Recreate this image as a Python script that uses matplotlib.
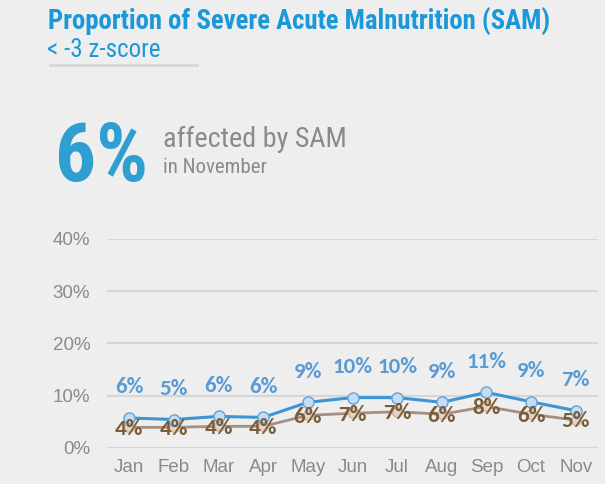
import matplotlib
matplotlib.use("Agg")
import matplotlib.pyplot as plt
import numpy as np

months = ["Jan", "Feb", "Mar", "Apr", "May", "Jun", "Jul", "Aug", "Sep", "Oct", "Nov"]
sam_blue = [5.7, 5.4, 6.0, 5.8, 8.7, 9.6, 9.6, 8.7, 10.6, 8.8, 7.1]
sam_brown = [3.9, 3.9, 4.1, 4.1, 6.2, 6.6, 6.9, 6.4, 7.9, 6.4, 5.3]
yticks = [0, 10, 20, 30, 40]

bg = "#eeeeee"
narrow = ["Roboto Condensed", "Liberation Sans", "DejaVu Sans"]

fig = plt.figure(figsize=(6.05, 4.84), dpi=100, facecolor=bg)

# header texts
fig.text(48 / 605, 1 - 29.5 / 484, "Proportion of Severe Acute Malnutrition (SAM)",
         family=narrow, weight="bold", size=19.3, color="#1a98d8", va="baseline")
fig.text(47 / 605, 1 - 57 / 484, "< -3 z-score",
         family=narrow, size=18, color="#1a98d8", va="baseline")
fig.add_artist(plt.Line2D([50 / 605, 197 / 605], [1 - 64.5 / 484, 1 - 64.5 / 484],
                          color="#d4d4d4", lw=1.8, transform=fig.transFigure))

fig.text(55 / 605, 1 - 181 / 484, "6%", family=narrow, weight=900, size=58.5,
         color="#2e9fd0", va="baseline")
fig.text(163 / 605, 1 - 147 / 484, "affected by SAM", family=narrow, size=20.3,
         color="#8a8a8a", va="baseline")
fig.text(163 / 605, 1 - 173.3 / 484, "in November", family=narrow, size=15,
         color="#8a8a8a", va="baseline")

ax = fig.add_axes([107 / 605, 1 - 447.7 / 484, (598 - 107) / 605, (447.7 - 239) / 484])
ax.set_facecolor(bg)
x = np.arange(len(months))

ax.plot(x, sam_brown, color="#a48f80", lw=2, marker="o", ms=7,
        mfc="#e6d3c5", mec="#c9b2a2", mew=1, zorder=3, clip_on=False)
ax.plot(x, sam_blue, color="#3d95d4", lw=2.2, marker="o", ms=8,
        mfc="#c6dcf2", mec="#5ea2dc", mew=1, zorder=4, clip_on=False)

for i in range(len(months)):
    ax.annotate("%d%%" % round(sam_blue[i]), (x[i], sam_blue[i]), xytext=(0, 22),
                textcoords="offset points", ha="center", va="center",
                family="Carlito", weight="bold", size=16.5, color="#5b9bd5", zorder=6)
    ax.annotate("%d%%" % round(sam_brown[i]), (x[i], sam_brown[i]), xytext=(0, -1),
                textcoords="offset points", ha="center", va="center",
                family="Carlito", weight="bold", size=16.5, color="#7a5c38", zorder=5)

ax.set_xlim(-0.5, 10.5)
ax.set_ylim(0, 40)
ax.set_yticks(yticks)
ax.set_yticklabels(["%d%%" % v for v in yticks])
ax.set_xticks(x)
ax.set_xticklabels(months)
ax.grid(axis="y", color="#d6d6d6", lw=1.5)
ax.set_axisbelow(True)
for s in ax.spines.values():
    s.set_visible(False)
ax.tick_params(length=0, labelsize=13.5, labelcolor="#8a8a8a")
ax.tick_params(axis="y", pad=12)
ax.tick_params(axis="x", pad=8)
for lab in ax.get_xticklabels() + ax.get_yticklabels():
    lab.set_family("Liberation Sans")

fig.savefig("out.png", dpi=100, facecolor=bg)
